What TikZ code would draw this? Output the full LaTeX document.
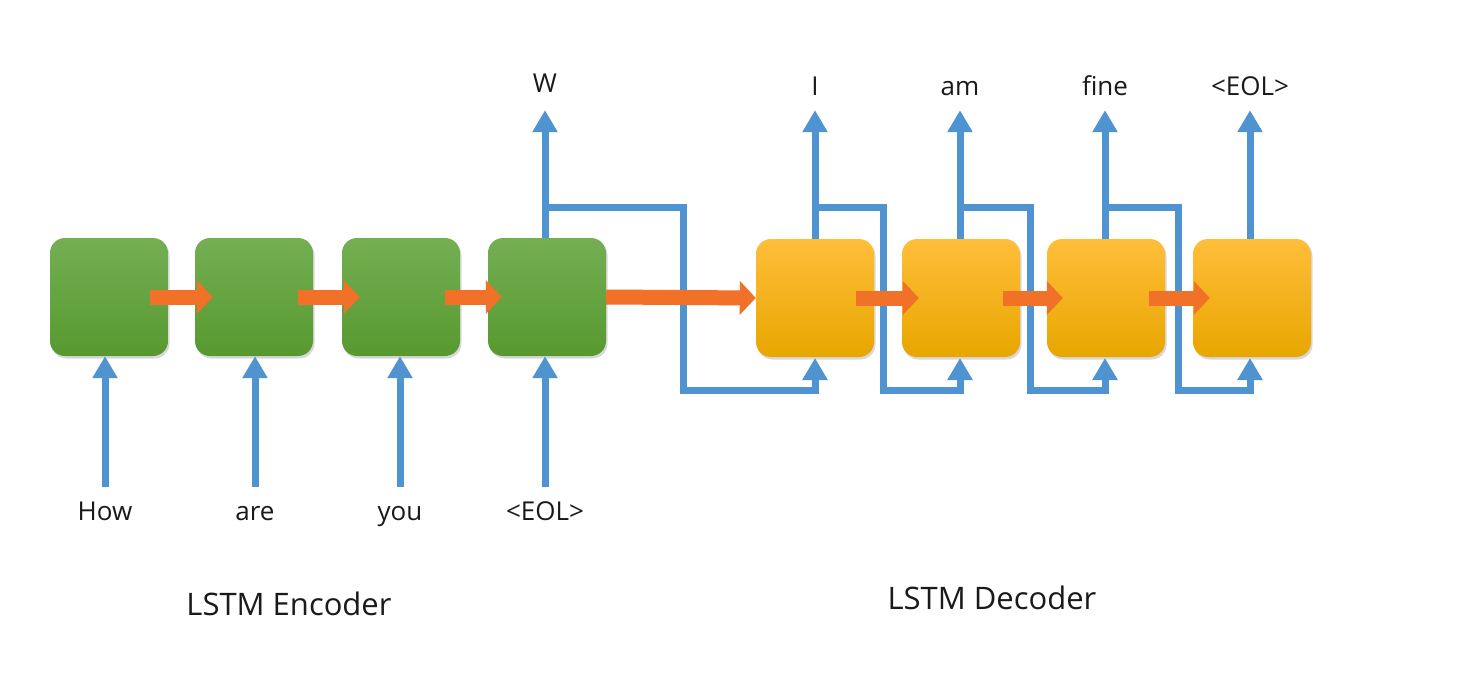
\documentclass[tikz,border=0pt]{standalone}
\usepackage{fontspec}
\setmainfont{Open Sans}
\usetikzlibrary{arrows.meta,shadows}
\definecolor{bluel}{HTML}{4F93D1}
\definecolor{orangel}{HTML}{F07127}
\definecolor{greentop}{HTML}{74AF53}
\definecolor{greenbot}{HTML}{57992F}
\definecolor{yeltop}{HTML}{FFBE3A}
\definecolor{yelmid}{HTML}{FDBB12}
\definecolor{yelbot}{HTML}{E8A600}
\definecolor{txt}{HTML}{1A1A1A}
\begin{document}
\begin{tikzpicture}[x=1pt,y=-1pt,
  cellbox/.style={minimum width=118pt,minimum height=118pt,rounded corners=15pt,inner sep=0pt,
    drop shadow={shadow xshift=1.5pt,shadow yshift=-2.5pt,opacity=0.3}},
  enc/.style={cellbox,top color=greentop,bottom color=greenbot},
  dec/.style={cellbox,top color=yeltop,middle color=yelmid,bottom color=yelbot},
  word/.style={inner sep=0pt,text=txt,text height=19pt,text depth=5pt,font=\fontsize{26}{30}\selectfont},
  title/.style={inner sep=0pt,text=txt,font=\fontsize{31}{36}\selectfont},
  bline/.style={draw=bluel,line width=7pt},
  barrow/.style={bline,-{Triangle[width=24pt,length=22pt]}},
  oarrow/.style={draw=orangel,line width=15pt,-{Triangle[width=33pt,length=16pt]}}
]
\useasboundingbox[fill=white] (0,0) rectangle (1480,672);

% labels
\node[word] (in1) at (105,513) {How};
\node[word] (in2) at (255,513) {are};
\node[word] (in3) at (400,513) {you};
\node[word] (in4) at (545,513) {<EOL>};
\node[word] (o0) at (545,85) {W};
\node[word] (o1) at (815,88) {I};
\node[word] (o2) at (960,88) {am};
\node[word] (o3) at (1105,88) {fine};
\node[word] (o4) at (1250,88) {<EOL>};
\node[title] (te) at (289,604) {LSTM Encoder};
\node[title] (td) at (992,598) {LSTM Decoder};

\coordinate (h) at (0,207);
\coordinate (v0) at (683,390);
\coordinate (v1) at (883,390);
\coordinate (v2) at (1030,390);
\coordinate (v3) at (1178,390);

% blue connectors (behind the boxes)
\draw[barrow] (o0 |- h) -| (v0) -| (o1 |- 0,358);
\draw[barrow] (o1 |- h) -| (v1) -| (o2 |- 0,358);
\draw[barrow] (o2 |- h) -| (v2) -| (o3 |- 0,358);
\draw[barrow] (o3 |- h) -| (v3) -| (o4 |- 0,358);

% boxes
\node[enc] (e1) at (109,297) {};
\node[enc] (e2) at (254,297) {};
\node[enc] (e3) at (401,297) {};
\node[enc] (e4) at (547,297) {};
\node[dec] (d1) at (815,298) {};
\node[dec] (d2) at (961,298) {};
\node[dec] (d3) at (1106,298) {};
\node[dec] (d4) at (1252,298) {};

% input arrows
\foreach \i in {1,2,3,4}{
  \draw[barrow] ([yshift=14pt]in\i.north) -- (in\i |- e\i.south);
}
% output arrows
\draw[barrow] (o0 |- e4.north) -- ([yshift=-13pt]o0.south);
\draw[barrow] (o1 |- d1.north) -- ([yshift=-10pt]o1.south);
\draw[barrow] (o2 |- d2.north) -- ([yshift=-10pt]o2.south);
\draw[barrow] (o3 |- d3.north) -- ([yshift=-10pt]o3.south);
\draw[barrow] (o4 |- d4.north) -- ([yshift=-10pt]o4.south);

% orange arrows
\draw[oarrow] ([xshift=-18pt]e1.east) -- ([xshift=18pt]e2.west);
\draw[oarrow] ([xshift=-15pt]e2.east) -- ([xshift=18pt]e3.west);
\draw[oarrow] ([xshift=-15pt]e3.east) -- ([xshift=14pt]e4.west);
\draw[oarrow] (e4.east) -- (d1.west);
\draw[oarrow] ([xshift=-18pt]d1.east) -- ([xshift=17pt]d2.west);
\draw[oarrow] ([xshift=-17pt]d2.east) -- ([xshift=16pt]d3.west);
\draw[oarrow] ([xshift=-16pt]d3.east) -- ([xshift=17pt]d4.west);
\end{tikzpicture}
\end{document}
